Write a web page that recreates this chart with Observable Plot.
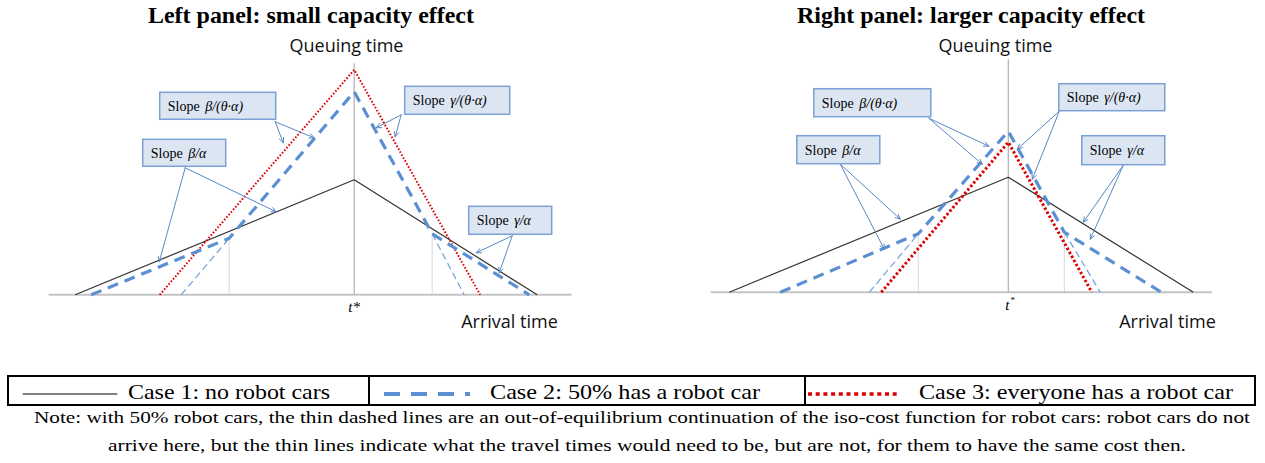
<!DOCTYPE html>
<html>
<head>
<meta charset="utf-8">
<script src="https://cdn.jsdelivr.net/npm/d3@7"></script>
<script src="https://cdn.jsdelivr.net/npm/@observablehq/plot@0.6"></script>
<style>
  body { margin: 0; background: #fff; width: 1265px; height: 463px; position: relative; overflow: hidden;
         font-family: "Liberation Serif", "Times New Roman", serif; color: #000; }
  .abs { position: absolute; white-space: nowrap; line-height: 1; transform-origin: 0 0; }
  .title { font-weight: bold; font-size: 24px; }
  .leg { font-size: 22px; }
  .note { font-size: 17px; }
  #box { position: absolute; left: 7px; top: 375px; width: 1249px; height: 31px; border: 2px solid #000; box-sizing: border-box; }
  .div { position: absolute; top: 375px; width: 2px; height: 31px; background: #000; }
  .panel { position: absolute; top: 28px; }
</style>
</head>
<body>
<div class="abs title" style="left:148px;top:3.2px" data-w="326">Left panel: small capacity effect</div>
<div class="abs title" style="left:797px;top:3.2px" data-w="348">Right panel: larger capacity effect</div>
<div id="left" class="panel" style="left:0px"></div>
<div id="right" class="panel" style="left:632px"></div>

<div id="box"></div>
<div class="div" style="left:368px"></div>
<div class="div" style="left:804px"></div>
<svg class="abs" style="left:0;top:388px" width="1265" height="12">
  <line x1="22.7" x2="117.3" y1="6" y2="6" stroke="#808080" stroke-width="2"/>
  <line x1="384" x2="470" y1="6" y2="6" stroke="#5b8fd3" stroke-width="4" stroke-dasharray="16,11"/>
  <line x1="808" x2="900" y1="6" y2="6" stroke="#d80000" stroke-width="3.5" stroke-dasharray="4,3.7"/>
</svg>
<div class="abs leg" style="left:128px;top:380.9px" data-w="202">Case 1: no robot cars</div>
<div class="abs leg" style="left:490px;top:380.9px" data-w="270">Case 2: 50% has a robot car</div>
<div class="abs leg" style="left:919px;top:380.9px" data-w="314">Case 3: everyone has a robot car</div>
<div class="abs note" style="left:34px;top:409.1px" data-w="1216">Note: with 50% robot cars, the thin dashed lines are an out-of-equilibrium continuation of the iso-cost function for robot cars: robot cars do not</div>
<div class="abs note" style="left:108px;top:436.5px" data-w="1078">arrive here, but the thin lines indicate what the travel times would need to be, but are not, for them to have the same cost then.</div>

<script>
// ---------- Data (arbitrary units, t* = 0) ----------
// Left panel: small capacity effect
const L_case1X = [-27.9, 0, 18.3];
const L_case1Y = [0, 11.5, 0];
const L_case2X = [-26.3, -12.5, 0, 7.8, 17.5];
const L_case2Y = [0, 5.65, 20.3, 6.1, 0];
const L_thinLeftX = [-17.3, -12.5];
const L_thinLeftY = [0, 5.65];
const L_thinRightX = [7.8, 11.0];
const L_thinRightY = [6.1, 0];
const L_case3X = [-19.45, 0, 12.6];
const L_case3Y = [0, 22.5, 0];
const L_guideX = [-12.5, 7.8];
const L_guideTop = [5.65, 6.1];
const L_axisX = [-30.5, 21.8];
const L_axisTop = 23.1;

// Right panel: larger capacity effect
const R_case1X = [-27.9, 0, 18.5];
const R_case1Y = [0, 11.5, 0];
const R_case2X = [-22.8, -9.0, 0, 5.6, 15.3];
const R_case2Y = [0, 5.84, 16.1, 6.0, 0];
const R_thinLeftX = [-13.9, -9.0];
const R_thinLeftY = [0, 5.84];
const R_thinRightX = [5.6, 9.2];
const R_thinRightY = [6.0, 0];
const R_case3X = [-12.7, 0, 8.35];
const R_case3Y = [0, 15.0, 0];
const R_guideX = [-9.0, 5.6];
const R_guideTop = [5.84, 6.0];
const R_axisX = [-29.7, 20.4];
const R_axisTop = 23.24;

// Annotation labels
const slopeFormulas = ["β/(θ·α)", "γ/(θ·α)", "β/α", "γ/α"];
const L_boxX1 = [-19.4, 5.1, -21.1, 11.5];
const L_boxX2 = [-7.8, 15.6, -12.8, 19.8];
const L_boxY1 = [17.5, 18.0, 12.8, 6.0];
const L_boxY2 = [20.2, 20.8, 15.5, 8.8];
const R_boxX1 = [-19.4, 5.1, -21.1, 7.4];
const R_boxX2 = [-7.7, 15.7, -12.8, 15.7];
const R_boxY1 = [17.5, 18.1, 12.8, 12.7];
const R_boxY2 = [20.3, 20.8, 15.6, 15.6];

// Arrows: start (x1,y1) -> tip (x2,y2)
const L_arrowX1 = [-7.9, -7.9, 4.7, 4.7, -16.9, -16.9, 15.8, 15.8];
const L_arrowY1 = [17.3, 17.3, 18.0, 18.0, 12.7, 12.7, 5.9, 5.9];
const L_arrowX2 = [-7.1, -4.0, 2.2, 4.1, -19.5, -7.8, 12.2, 14.5];
const L_arrowY2 = [15.2, 15.7, 16.7, 15.8, 3.3, 8.3, 4.2, 2.2];
const R_arrowX1 = [-7.95, -7.95, 5.1, 5.1, -16.8, -16.8, 11.5, 11.5];
const R_arrowY1 = [17.4, 17.4, 18.1, 18.1, 12.8, 12.8, 12.7, 12.7];
const R_arrowX2 = [-1.95, -2.6, 0.9, 2.4, -12.4, -10.8, 7.5, 8.2];
const R_arrowY2 = [14.6, 12.8, 14.3, 11.3, 4.3, 7.3, 7.0, 5.3];

// ---------- helpers ----------
const zip = (xs, ys) => xs.map((x, i) => ({x, y: ys[i]}));
const SERIF = "Liberation Serif, Times New Roman, serif";
const SANS = "Open Sans, Lato, sans-serif";

function panel(p) {
  const boxes = p.boxX1.map((x1, i) => ({x1, x2: p.boxX2[i], y1: p.boxY1[i], y2: p.boxY2[i], f: slopeFormulas[i]}));
  const arrows = p.arrowX1.map((x1, i) => ({x1, y1: p.arrowY1[i], x2: p.arrowX2[i], y2: p.arrowY2[i]}));
  const guides = p.guideX.map((x, i) => ({x, y: p.guideTop[i]}));
  const lineOpts = {x: "x", y: "y", strokeLinecap: "butt", strokeLinejoin: "miter"};
  return Plot.plot({
    width: p.width, height: 312, margin: 0,
    x: {domain: p.xDomain, range: [0, p.width]},
    y: {domain: p.yDomain, range: [p.y0, 0]},
    axis: null,
    style: {overflow: "visible", background: "transparent"},
    marks: [
      Plot.ruleX(guides, {x: "x", y1: 0, y2: "y", stroke: "#d9d9d9", strokeWidth: 1}),
      Plot.ruleY([0], {x1: p.axisX[0], x2: p.axisX[1], stroke: "#c4c4c4", strokeWidth: 2}),
      Plot.ruleX([0], {y1: 0, y2: p.axisTop, stroke: "#b0b0b0", strokeWidth: 1.2}),
      Plot.line(zip(p.case1X, p.case1Y), {...lineOpts, stroke: "#333", strokeWidth: 1.2}),
      Plot.line(zip(p.thinLX, p.thinLY), {...lineOpts, stroke: "#6f9fdc", strokeWidth: 1.2, strokeDasharray: "7,4"}),
      Plot.line(zip(p.thinRX, p.thinRY), {...lineOpts, stroke: "#6f9fdc", strokeWidth: 1.2, strokeDasharray: "7,4"}),
      Plot.line(zip(p.case3X, p.case3Y), {...lineOpts, stroke: "#e00000", strokeWidth: p.redW, strokeDasharray: p.redDash}),
      Plot.line(zip(p.case2X, p.case2Y), {...lineOpts, stroke: "#5b8fd3", strokeWidth: 3.2, strokeDasharray: "11,7"}),
      Plot.arrow(arrows, {x1: "x1", y1: "y1", x2: "x2", y2: "y2", stroke: "#5a87c5", strokeWidth: 1, headLength: 8, headAngle: 50}),
      Plot.rect(boxes, {x1: "x1", x2: "x2", y1: "y1", y2: "y2", fill: "#dce6f2", stroke: "#7ba0d4", strokeWidth: 1.5}),
      Plot.text(boxes, {x: d => d.x1 + 0.75, y: d => (d.y1 + d.y2) / 2, text: () => "Slope", textAnchor: "start", fontFamily: SERIF, fontSize: 14, fill: "#000"}),
      Plot.text(boxes, {x: d => d.x1 + 4.5, y: d => (d.y1 + d.y2) / 2, text: "f", textAnchor: "start", fontFamily: SERIF, fontSize: 14, fontStyle: "italic", fill: "#000"}),
      Plot.text([p.qLabel], {x: "x", y: "y", text: () => "Queuing time", fontFamily: SANS, fontSize: 18, fill: "#111"}),
      Plot.text([p.aLabel], {x: "x", y: "y", text: () => "Arrival time", fontFamily: SANS, fontSize: 18, fill: "#111"}),
      ...p.tMarks
    ]
  });
}

const left = panel({
  width: 632, xDomain: [-35.37, 27.83], yDomain: [0, 26.63], y0: 266.3,
  case1X: L_case1X, case1Y: L_case1Y, case2X: L_case2X, case2Y: L_case2Y,
  thinLX: L_thinLeftX, thinLY: L_thinLeftY, thinRX: L_thinRightX, thinRY: L_thinRightY,
  case3X: L_case3X, case3Y: L_case3Y, guideX: L_guideX, guideTop: L_guideTop,
  axisX: L_axisX, axisTop: L_axisTop, redW: 2, redDash: "1.6,1.8",
  boxX1: L_boxX1, boxX2: L_boxX2, boxY1: L_boxY1, boxY2: L_boxY2,
  arrowX1: L_arrowX1, arrowY1: L_arrowY1, arrowX2: L_arrowX2, arrowY2: L_arrowY2,
  qLabel: {x: -0.77, y: 24.83}, aLabel: {x: 15.53, y: -2.74},
  tMarks: [Plot.text([{x: 0, y: -1.24}], {x: "x", y: "y", text: () => "t*", fontFamily: SERIF, fontStyle: "italic", fontSize: 15, fill: "#000"})]
});
const right = panel({
  width: 633, xDomain: [-37.58, 25.72], yDomain: [0, 26.37], y0: 263.7,
  case1X: R_case1X, case1Y: R_case1Y, case2X: R_case2X, case2Y: R_case2Y,
  thinLX: R_thinLeftX, thinLY: R_thinLeftY, thinRX: R_thinRightX, thinRY: R_thinRightY,
  case3X: R_case3X, case3Y: R_case3Y, guideX: R_guideX, guideTop: R_guideTop,
  axisX: R_axisX, axisTop: R_axisTop, redW: 3, redDash: "2.4,2.2",
  boxX1: R_boxX1, boxX2: R_boxX2, boxY1: R_boxY1, boxY2: R_boxY2,
  arrowX1: R_arrowX1, arrowY1: R_arrowY1, arrowX2: R_arrowX2, arrowY2: R_arrowY2,
  qLabel: {x: -1.28, y: 24.57}, aLabel: {x: 15.92, y: -3.03},
  tMarks: [
    Plot.text([{x: -0.1, y: -1.33}], {x: "x", y: "y", text: () => "t", fontFamily: SERIF, fontStyle: "italic", fontSize: 15, fill: "#000"}),
    Plot.text([{x: 0.45, y: -0.75}], {x: "x", y: "y", text: () => "*", fontFamily: SERIF, fontSize: 9, fill: "#000"})
  ]
});
document.getElementById("left").appendChild(left);
document.getElementById("right").appendChild(right);

document.querySelectorAll("[data-w]").forEach(el => {
  const w = el.getBoundingClientRect().width;
  if (w > 0) el.style.transform = `scaleX(${(+el.dataset.w / w).toFixed(4)})`;
});
</script>
</body>
</html>
